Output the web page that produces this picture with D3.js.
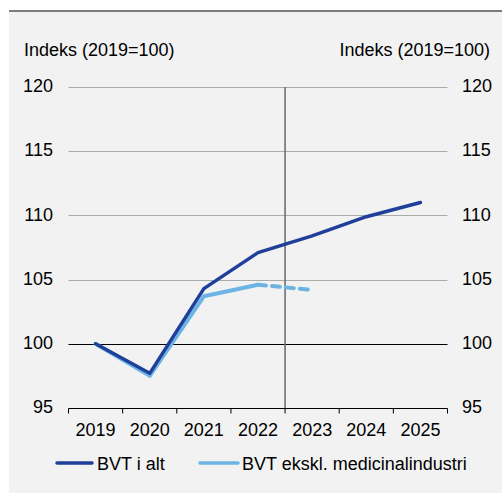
<!DOCTYPE html>
<html>
<head>
<meta charset="utf-8">
<script src="https://cdn.jsdelivr.net/npm/d3@7"></script>
<style>
	body { margin: 0; background: #fff; }
	text { font-family: "Liberation Sans", Arial, sans-serif; font-size: 18px; fill: #000; }
</style>
</head>
<body>
<svg id="chart"></svg>
<script>
const width = 502, height = 494;

const years = ['2019', '2020', '2021', '2022', '2023', '2024', '2025'];
const bvtTotal = [100, 97.7, 104.3, 107.1, 108.4, 109.9, 111.0];
const bvtExMed = [100, 97.5, 103.7, 104.6];
const bvtExMedForecast = [104.6, 104.2]; // 2022 -> 2023, dashed
const yTicks = [95, 100, 105, 110, 115, 120];
const axisTitle = 'Indeks (2019=100)';
const legendLabels = ['BVT i alt', 'BVT ekskl. medicinalindustri'];

const darkBlue = '#203f9b', lightBlue = '#6cb4e3';
const fontSize = '18px';

const svg = d3.select('#chart')
	.attr('width', width)
	.attr('height', height);

// background panel + top rule
svg.append('rect')
	.attr('x', 9).attr('y', 11)
	.attr('width', width - 9).attr('height', 482)
	.attr('fill', '#f2f2f2');
svg.append('line')
	.attr('x1', 9).attr('x2', width)
	.attr('y1', 11).attr('y2', 11)
	.attr('stroke', '#000').attr('stroke-width', 1.2);

const xScale = d3.scaleBand()
	.domain(years)
	.range([68.5, 447.5]);

const yScale = d3.scaleLinear()
	.domain([95, 120])
	.range([408, 87]);

const xc = (d) => xScale(d) + xScale.bandwidth() / 2;

// gridlines
svg.append('g')
	.selectAll('line')
	.data(yTicks.filter(t => t > 95))
	.enter()
	.append('line')
	.attr('x1', 68.5).attr('x2', 447.5)
	.attr('y1', d => Math.round(yScale(d)) + 0.5)
	.attr('y2', d => Math.round(yScale(d)) + 0.5)
	.attr('stroke', d => d === 100 ? '#000' : '#a9aca9')
	.attr('stroke-width', d => d === 100 ? 1 : 1.2);

// vertical divider between 2022 and 2023
svg.append('line')
	.attr('x1', xScale('2023')).attr('x2', xScale('2023'))
	.attr('y1', yScale(120)).attr('y2', yScale(95))
	.attr('stroke', '#6f6f6f').attr('stroke-width', 1.6);

// x axis
const xAxis = svg.append('g')
	.attr('transform', `translate(0,${Math.round(yScale(95)) + 0.5})`)
	.call(d3.axisBottom(xScale).tickSize(0).tickPadding(15));
xAxis.select('.domain').attr('stroke', '#000').attr('d', 'M68.5,0H447.5');
xAxis.selectAll('text').style('font-size', fontSize).style('font-family', '"Liberation Sans", Arial, sans-serif');
xAxis.selectAll('.tick-mark')
	.data(d3.range(years.length + 1))
	.enter()
	.append('line')
	.attr('x1', i => i < years.length ? xScale(years[i]) : xScale.range()[1])
	.attr('x2', i => i < years.length ? xScale(years[i]) : xScale.range()[1])
	.attr('y1', 0).attr('y2', 5)
	.attr('stroke', '#000');

// y axes (labels only)
const leftAxis = svg.append('g')
	.attr('transform', 'translate(53,-1)')
	.call(d3.axisLeft(yScale).tickValues(yTicks).tickSize(0).tickPadding(0));
const rightAxis = svg.append('g')
	.attr('transform', 'translate(462,-1)')
	.call(d3.axisRight(yScale).tickValues(yTicks).tickSize(0).tickPadding(0));
[leftAxis, rightAxis].forEach(a => {
	a.select('.domain').remove();
	a.selectAll('text').style('font-size', fontSize).style('font-family', '"Liberation Sans", Arial, sans-serif');
});

svg.append('text').attr('x', 24).attr('y', 56).text(axisTitle);
svg.append('text').attr('x', 490).attr('y', 56).attr('text-anchor', 'end').text(axisTitle);

const line = d3.line()
	.x(d => xc(d.year))
	.y(d => yScale(d.value));

svg.append('path')
	.datum(bvtExMed.map((v, i) => ({ year: years[i], value: v })))
	.attr('d', line)
	.attr('fill', 'none')
	.attr('stroke', lightBlue)
	.attr('stroke-width', 4)
	.attr('stroke-linejoin', 'round')
	.attr('stroke-linecap', 'round');

svg.append('path')
	.datum(bvtExMedForecast.map((v, i) => ({ year: years[i + 3], value: v })))
	.attr('d', line)
	.attr('fill', 'none')
	.attr('stroke', lightBlue)
	.attr('stroke-width', 4)
	.attr('stroke-dasharray', '8,6')
	.attr('stroke-linecap', 'round');

svg.append('path')
	.datum(bvtTotal.map((v, i) => ({ year: years[i], value: v })))
	.attr('d', line)
	.attr('fill', 'none')
	.attr('stroke', darkBlue)
	.attr('stroke-width', 3.5)
	.attr('stroke-linejoin', 'round')
	.attr('stroke-linecap', 'round');

// legend
const legend = svg.append('g').attr('transform', 'translate(0,463)');
const legendItems = [
	{ x1: 57, x2: 92, tx: 97, color: darkBlue, label: legendLabels[0] },
	{ x1: 200, x2: 238, tx: 242, color: lightBlue, label: legendLabels[1] }
];
legendItems.forEach(d => {
	legend.append('line')
		.attr('x1', d.x1).attr('x2', d.x2)
		.attr('y1', 0).attr('y2', 0)
		.attr('stroke', d.color)
		.attr('stroke-width', 3.5)
		.attr('stroke-linecap', 'round');
	legend.append('text')
		.attr('x', d.tx).attr('y', 7)
		.text(d.label);
});
</script>
</body>
</html>
